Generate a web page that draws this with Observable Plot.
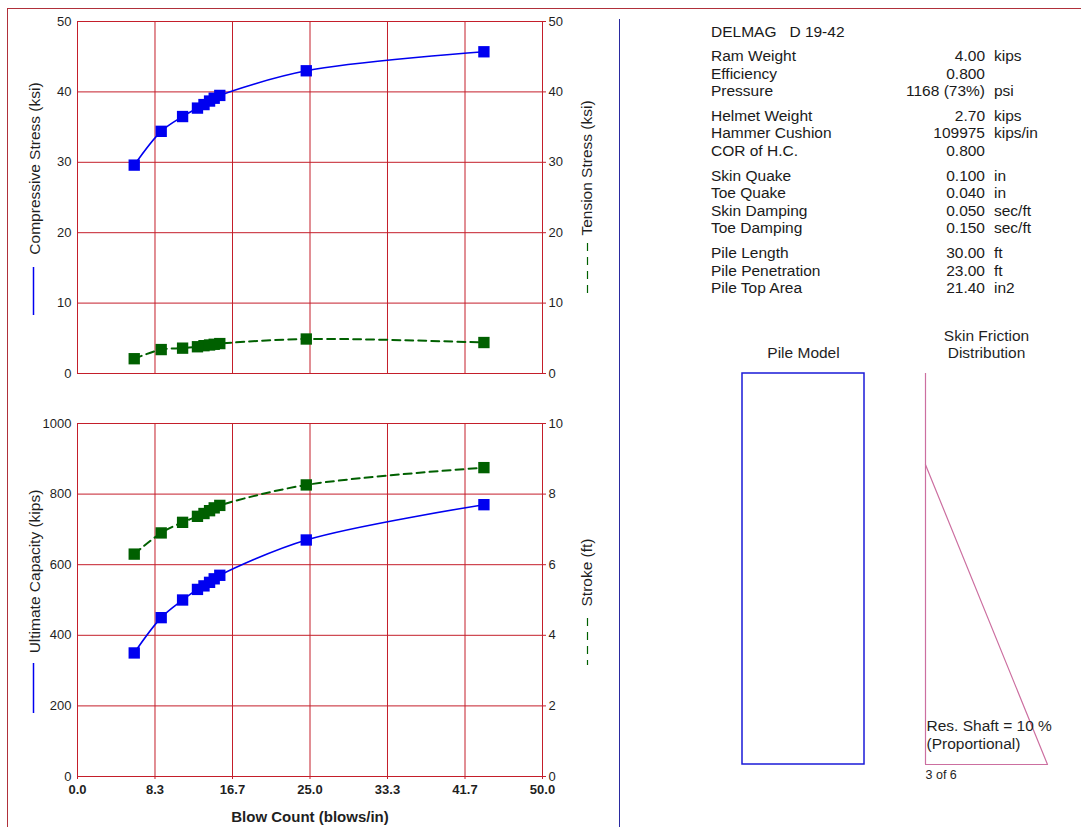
<!DOCTYPE html>
<html>
<head>
<meta charset="utf-8">
<script src="https://cdn.jsdelivr.net/npm/d3@7"></script>
<script src="https://cdn.jsdelivr.net/npm/@observablehq/plot@0.6"></script>
<style>
html,body{margin:0;padding:0;background:#fff;}
#page{position:relative;width:1081px;height:827px;overflow:hidden;background:#fff;font-family:Arial,"Liberation Sans",Helvetica,sans-serif;color:#1a1a1a;}
#page > *{position:absolute;}
.ptxt{font-size:15.5px;line-height:18px;height:18px;white-space:pre;}
</style>
</head>
<body>
<div id="page"></div>
<script>
// ---------- data ----------
const blowCount   = [6.1, 9.0, 11.3, 12.9, 13.6, 14.2, 14.7, 15.3, 24.6, 43.7];
const compStress  = [29.6, 34.4, 36.5, 37.7, 38.2, 38.7, 39.1, 39.5, 43.0, 45.7];
const tensStress  = [2.1, 3.4, 3.6, 3.8, 3.95, 4.05, 4.15, 4.25, 4.9, 4.4];
const ultCapacity = [350, 450, 500, 530, 540, 550, 560, 570, 670, 770];
const strokeFt    = [6.3, 6.9, 7.2, 7.37, 7.45, 7.53, 7.61, 7.68, 8.26, 8.75];

const xTicks        = [0, 8.333, 16.667, 25, 33.333, 41.667, 50];
const xTickLabels   = ["0.0", "8.3", "16.7", "25.0", "33.3", "41.7", "50.0"];
const stressTicks   = [0, 10, 20, 30, 40, 50];
const capacityTicks = [0, 200, 400, 600, 800, 1000];
const strokeTicks   = [0, 2, 4, 6, 8, 10];

const hammerTitle = "DELMAG   D 19-42";
const paramLabels = ["Ram Weight", "Efficiency", "Pressure", "Helmet Weight", "Hammer Cushion", "COR of H.C.",
  "Skin Quake", "Toe Quake", "Skin Damping", "Toe Damping", "Pile Length", "Pile Penetration", "Pile Top Area"];
const paramValues = ["4.00", "0.800", "1168 (73%)", "2.70", "109975", "0.800",
  "0.100", "0.040", "0.050", "0.150", "30.00", "23.00", "21.40"];
const paramUnits  = ["kips", "", "psi", "kips", "kips/in", "", "in", "in", "sec/ft", "sec/ft", "ft", "ft", "in2"];
const paramGroup  = [0, 0, 0, 1, 1, 1, 2, 2, 2, 2, 3, 3, 3];

const pileLength = 30;       // ft
const pilePenetration = 23;  // ft
const frictionDepth = [pileLength - pilePenetration, pileLength];
const frictionValue = [0, 1];
const resShaftText = "Res. Shaft = 10 %";
const distText = "(Proportional)";
const pageText = "3 of 6";

// ---------- styles ----------
const RED = "#c41e2a", BLUE = "#0000f0", GREEN = "#006000", INK = "#1f1f1f";
const FONT = 'Arial, "Liberation Sans", Helvetica, sans-serif';
const chartStyle = {fontFamily: FONT, fontSize: "13px", background: "transparent", color: INK, overflow: "visible"};
const page = document.getElementById("page");

function place(el, left, top) { el.style.position = "absolute"; el.style.left = left + "px"; el.style.top = top + "px"; page.appendChild(el); return el; }

// page border and divider
const border = document.createElement("div");
border.style.cssText = "width:1100px;height:900px;border-top:1px solid #b0303a;border-left:1px solid #b0303a;";
place(border, 7, 8);
const divider = document.createElement("div");
divider.style.cssText = "width:0;height:810px;border-left:1.5px solid #2a2aa0;";
place(divider, 619, 19);

const stressData = blowCount.map((b, i) => ({b, comp: compStress[i], tens: tensStress[i]}));
const capData = blowCount.map((b, i) => ({b, cap: ultCapacity[i], stroke: strokeFt[i]}));

function legendLine(svg, x, y1, y2, color, dash) {
  d3.select(svg).append("line")
    .attr("x1", x).attr("x2", x).attr("y1", y1).attr("y2", y2)
    .attr("stroke", color).attr("stroke-width", dash ? 1.2 : 1.5)
    .attr("stroke-dasharray", dash ? "8,6" : null);
}
const yTitle = {rotate: -90, textAnchor: "middle", lineAnchor: "middle", fontSize: 15.5, fill: INK};

// ---------- top chart: stresses ----------
const topChart = Plot.plot({
  width: 620, height: 400,
  marginLeft: 77, marginRight: 78, marginTop: 21, marginBottom: 27,
  style: chartStyle,
  x: {domain: [0, 50], axis: null},
  y: {domain: [0, 50]},
  marks: [
    Plot.gridX(xTicks, {stroke: RED, strokeOpacity: 1, strokeWidth: 1}),
    Plot.gridY(stressTicks, {stroke: RED, strokeOpacity: 1, strokeWidth: 1}),
    Plot.frame({stroke: RED, strokeWidth: 1}),
    Plot.axisY(stressTicks, {anchor: "left", tickSize: 0, tickPadding: 6, label: null, fontSize: 13, fill: INK, tickFormat: d => String(d)}),
    Plot.axisY(stressTicks, {anchor: "right", tickSize: 3, tickPadding: 3, label: null, fontSize: 13, fill: INK, stroke: RED, tickFormat: d => String(d)}),
    Plot.line(stressData, {x: "b", y: "tens", stroke: GREEN, strokeWidth: 2, strokeDasharray: "8,5", curve: "catmull-rom"}),
    Plot.dot(stressData, {x: "b", y: "tens", symbol: "square", fill: GREEN, r: 6.4}),
    Plot.line(stressData, {x: "b", y: "comp", stroke: BLUE, strokeWidth: 1.6, curve: "catmull-rom"}),
    Plot.dot(stressData, {x: "b", y: "comp", symbol: "square", fill: BLUE, r: 6.4}),
    Plot.text(["Compressive Stress (ksi)"], {frameAnchor: "left", dx: -42, dy: -29, ...yTitle}),
    Plot.text(["Tension Stress (ksi)"], {frameAnchor: "right", dx: 45, dy: -29.5, ...yTitle})
  ]
});
legendLine(topChart, 33.5, 267, 315, BLUE, false);
legendLine(topChart, 587.5, 243, 297, GREEN, true);
place(topChart, 0, 0);

// ---------- bottom chart: capacity (left) and stroke (right) ----------
const botOpts = {width: 620, height: 427, marginLeft: 77, marginRight: 78, marginTop: 23, marginBottom: 51, style: chartStyle};
const botLeft = Plot.plot({
  ...botOpts,
  x: {domain: [0, 50]},
  y: {domain: [0, 1000]},
  marks: [
    Plot.gridX(xTicks, {stroke: RED, strokeOpacity: 1, strokeWidth: 1}),
    Plot.gridY(capacityTicks, {stroke: RED, strokeOpacity: 1, strokeWidth: 1}),
    Plot.frame({stroke: RED, strokeWidth: 1}),
    Plot.axisY(capacityTicks, {anchor: "left", tickSize: 0, tickPadding: 6, label: null, fontSize: 13, fill: INK, tickFormat: d => String(d)}),
    Plot.axisX(xTicks, {anchor: "bottom", tickSize: 3, tickPadding: 5, label: null, stroke: RED, fill: INK,
      fontSize: 13, fontWeight: "bold", tickFormat: d => xTickLabels[xTicks.indexOf(d)]}),
    Plot.line(capData, {x: "b", y: "cap", stroke: BLUE, strokeWidth: 1.6, curve: "catmull-rom"}),
    Plot.dot(capData, {x: "b", y: "cap", symbol: "square", fill: BLUE, r: 6.4}),
    Plot.text(["Ultimate Capacity (kips)"], {frameAnchor: "left", dx: -42, dy: -28.5, ...yTitle}),
    Plot.text(["Blow Count (blows/in)"], {frameAnchor: "bottom", dy: 41, lineAnchor: "middle", fontSize: 15, fontWeight: "bold", fill: INK})
  ]
});
legendLine(botLeft, 33.5, 263, 313, BLUE, false);
place(botLeft, 0, 400);

const botRight = Plot.plot({
  ...botOpts,
  x: {domain: [0, 50], axis: null},
  y: {domain: [0, 10]},
  marks: [
    Plot.axisY(strokeTicks, {anchor: "right", tickSize: 3, tickPadding: 3, label: null, fontSize: 13, fill: INK, stroke: RED, tickFormat: d => String(d)}),
    Plot.line(capData, {x: "b", y: "stroke", stroke: GREEN, strokeWidth: 2, strokeDasharray: "8,5", curve: "catmull-rom"}),
    Plot.dot(capData, {x: "b", y: "stroke", symbol: "square", fill: GREEN, r: 6.4}),
    Plot.text(["Stroke (ft)"], {frameAnchor: "right", dx: 45, dy: -27.5, ...yTitle})
  ]
});
legendLine(botRight, 587.5, 218, 265, GREEN, true);
place(botRight, 0, 400);

// ---------- parameter panel ----------
function textDiv(txt, cls, align, width) {
  const d = document.createElement("div");
  d.className = cls; d.textContent = txt;
  if (align) { d.style.textAlign = align; d.style.width = width + "px"; }
  return d;
}
place(textDiv(hammerTitle, "ptxt"), 711, 31.7 - 9);
let rowY = 56;
paramLabels.forEach((lab, i) => {
  if (i > 0 && paramGroup[i] !== paramGroup[i - 1]) rowY += 7;
  place(textDiv(lab, "ptxt"), 711, rowY - 9);
  place(textDiv(paramValues[i], "ptxt", "right", 160), 985 - 160, rowY - 9);
  place(textDiv(paramUnits[i], "ptxt"), 994, rowY - 9);
  rowY += 17.6;
});

// ---------- pile model ----------
const pileChart = Plot.plot({
  width: 206, height: 474, marginLeft: 42, marginRight: 42, marginTop: 53, marginBottom: 30,
  style: chartStyle,
  x: {axis: null, domain: [0, 1]},
  y: {domain: [0, pileLength], reverse: true, axis: null},
  marks: [
    Plot.rect([{top: 0, bottom: pileLength}], {x1: 0, x2: 1, y1: "top", y2: "bottom", stroke: "#1a1ad8", strokeWidth: 1.5, fill: "none"}),
    Plot.text(["Pile Model"], {frameAnchor: "top", dy: -20, lineAnchor: "middle", fontSize: 15.5, fill: INK})
  ]
});
place(pileChart, 700, 320);

// ---------- skin friction distribution ----------
const fricData = frictionDepth.map((d, i) => ({depth: d, f: frictionValue[i]}));
const PINK = "#cc6fa0";
const fricChart = Plot.plot({
  width: 201, height: 494, marginLeft: 45, marginRight: 34, marginTop: 53, marginBottom: 50,
  style: chartStyle,
  x: {axis: null, domain: [0, 1]},
  y: {domain: [0, pileLength], reverse: true, axis: null},
  marks: [
    Plot.ruleX([0], {y1: 0, y2: pileLength, stroke: PINK, strokeWidth: 1.2}),
    Plot.ruleY([pileLength], {x1: 0, x2: 1, stroke: PINK, strokeWidth: 1.2}),
    Plot.line(fricData, {x: "f", y: "depth", stroke: PINK, strokeWidth: 1.2}),
    Plot.text(["Skin Friction"], {frameAnchor: "top", dy: -37, lineAnchor: "middle", fontSize: 15.5, fill: INK}),
    Plot.text(["Distribution"], {frameAnchor: "top", dy: -20, lineAnchor: "middle", fontSize: 15.5, fill: INK}),
    Plot.text([resShaftText], {frameAnchor: "bottom-left", textAnchor: "start", lineAnchor: "middle", dx: 1, dy: -38.5, fontSize: 15.5, fill: INK}),
    Plot.text([distText], {frameAnchor: "bottom-left", textAnchor: "start", lineAnchor: "middle", dx: 1, dy: -20.5, fontSize: 15.5, fill: INK}),
    Plot.text([pageText], {frameAnchor: "bottom-left", textAnchor: "start", lineAnchor: "middle", dx: 0, dy: 10, fontSize: 12.5, fill: INK})
  ]
});
place(fricChart, 880, 320);
</script>
</body>
</html>
